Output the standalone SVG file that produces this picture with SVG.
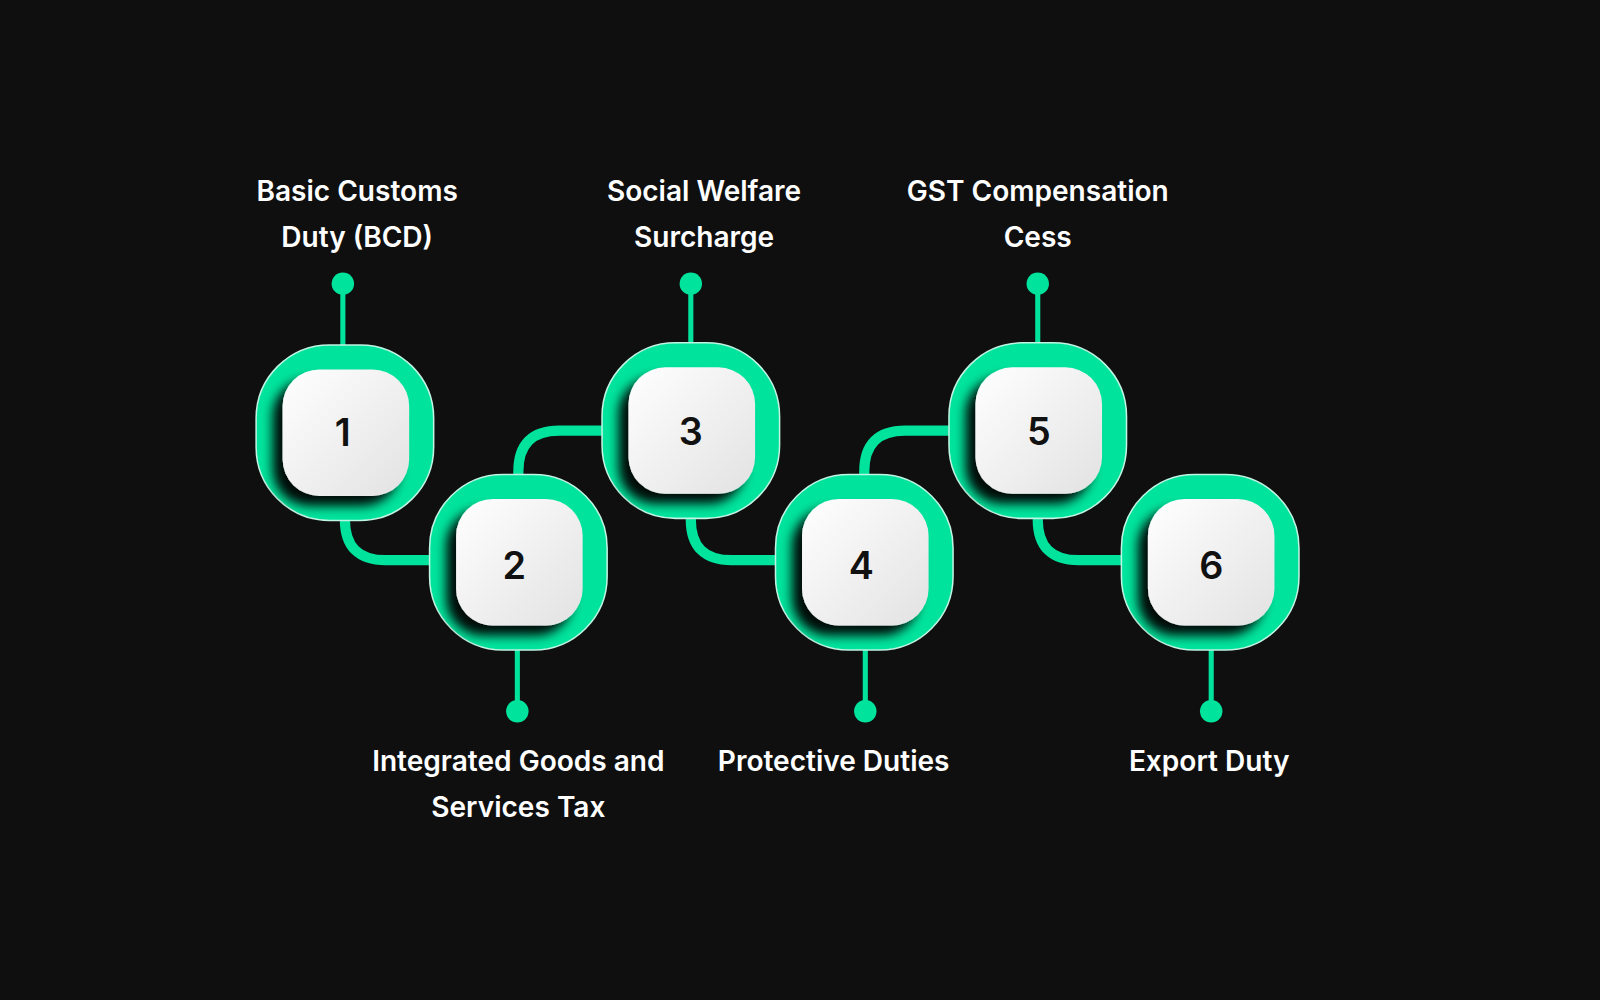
<svg xmlns="http://www.w3.org/2000/svg" width="1600" height="1000" viewBox="0 0 1600 1000">
<defs>
<linearGradient id="wg" x1="0" y1="0" x2="1" y2="1"><stop offset="0" stop-color="#ffffff"/><stop offset="1" stop-color="#e2e2e2"/></linearGradient>
<filter id="sh" x="-40%" y="-40%" width="180%" height="180%"><feGaussianBlur in="SourceAlpha" stdDeviation="5"/><feOffset dx="-10" dy="10"/><feComponentTransfer><feFuncA type="linear" slope="0.95"/></feComponentTransfer><feMerge><feMergeNode/><feMergeNode in="SourceGraphic"/></feMerge></filter>
<style>
.o{fill:#00e39c;stroke:#bff5e2;stroke-width:1.5}
.i{fill:url(#wg)}
.n{font-family:Inter,"Liberation Sans",sans-serif;font-size:37px;font-weight:600;fill:#111;text-anchor:middle}
.t{font-family:Inter,"Liberation Sans",sans-serif;font-size:27.5px;font-weight:600;fill:#fff;text-anchor:middle}
.c{fill:none;stroke:#00e39c;stroke-width:10}
.s{stroke:#00e39c;stroke-width:5}
.d{fill:#00e39c}
</style>
</defs>
<rect width="1600" height="1000" fill="#0f0f0f"/>
<g transform="scale(1.0204)">
<g id="connectors">
<path class="c" d="M338 505 V509 Q338 549 378 549 H426"/>
<path class="c" d="M508 470 V462 Q508 422 548 422 H596"/>
<path class="c" d="M677 505 V509 Q677 549 717 549 H766"/>
<path class="c" d="M847 470 V462 Q847 422 887 422 H936"/>
<path class="c" d="M1017 505 V509 Q1017 549 1057 549 H1105"/>
<line class="s" x1="336" y1="278" x2="336" y2="340"/><circle class="d" cx="336" cy="278" r="11"/>
<line class="s" x1="677" y1="278" x2="677" y2="340"/><circle class="d" cx="677" cy="278" r="11"/>
<line class="s" x1="1017" y1="278" x2="1017" y2="340"/><circle class="d" cx="1017" cy="278" r="11"/>
<line class="s" x1="507" y1="635" x2="507" y2="697"/><circle class="d" cx="507" cy="697" r="11"/>
<line class="s" x1="848" y1="635" x2="848" y2="697"/><circle class="d" cx="848" cy="697" r="11"/>
<line class="s" x1="1187" y1="635" x2="1187" y2="697"/><circle class="d" cx="1187" cy="697" r="11"/>
</g>
<g id="node1"><rect class="o" x="251" y="338" width="174" height="172" rx="72"/><rect class="i" filter="url(#sh)" x="277" y="362" width="124" height="124" rx="36"/><text class="n" x="336" y="437">1</text><text class="t" x="350" y="197">Basic Customs</text><text class="t" x="350" y="242">Duty (BCD)</text></g>
<g id="node2"><rect class="o" x="421" y="465" width="174" height="172" rx="72"/><rect class="i" filter="url(#sh)" x="447" y="489" width="124" height="124" rx="36"/><text class="n" x="504" y="567">2</text><text class="t" x="508" y="756">Integrated Goods and</text><text class="t" x="508" y="801">Services Tax</text></g>
<g id="node3"><rect class="o" x="590" y="336" width="174" height="172" rx="72"/><rect class="i" filter="url(#sh)" x="616" y="360" width="124" height="124" rx="36"/><text class="n" x="677" y="436">3</text><text class="t" x="690" y="197">Social Welfare</text><text class="t" x="690" y="242">Surcharge</text></g>
<g id="node4"><rect class="o" x="760" y="465" width="174" height="172" rx="72"/><rect class="i" filter="url(#sh)" x="786" y="489" width="124" height="124" rx="36"/><text class="n" x="844" y="567">4</text><text class="t" x="817" y="756">Protective Duties</text></g>
<g id="node5"><rect class="o" x="930" y="336" width="174" height="172" rx="72"/><rect class="i" filter="url(#sh)" x="956" y="360" width="124" height="124" rx="36"/><text class="n" x="1018" y="436">5</text><text class="t" x="1017" y="197">GST Compensation</text><text class="t" x="1017" y="242">Cess</text></g>
<g id="node6"><rect class="o" x="1099" y="465" width="174" height="172" rx="72"/><rect class="i" filter="url(#sh)" x="1125" y="489" width="124" height="124" rx="36"/><text class="n" x="1187" y="567">6</text><text class="t" x="1185" y="756">Export Duty</text></g>
</g>
</svg>
